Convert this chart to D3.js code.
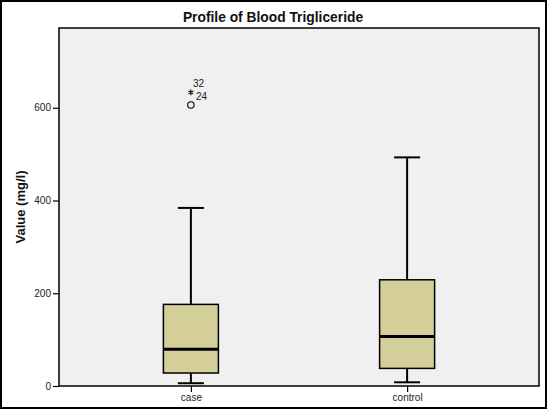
<!DOCTYPE html>
<html>
<head>
<meta charset="utf-8">
<script src="https://cdn.jsdelivr.net/npm/d3@7"></script>
<style>
    body { margin: 0; background: #fff; }
    text { font-family: "Liberation Sans", Arial, sans-serif; }
</style>
</head>
<body>
<div class="chart"></div>
<script>
(function () {
    'use strict';

    /* data */
    const groups = ['case', 'control'];
    const lowerWhisker = [6, 8];
    const quartile1 = [28, 38];
    const medians = [79, 107];
    const quartile3 = [176, 229];
    const upperWhisker = [384, 493];
    const outlierGroup = ['case', 'case'];
    const outlierValues = [606, 633];
    const outlierKind = ['circle', 'star'];
    const outlierLabels = ['24', '32'];
    const yTicks = [0, 200, 400, 600];

    const W = 548, H = 409;
    const margin = { top: 28, left: 59, right: 9, bottom: 23 };
    const width = W - margin.left - margin.right;
    const height = H - margin.top - margin.bottom;

    const svg = d3.select('.chart').append('svg')
        .attr('width', W)
        .attr('height', H);

    /* outer frame */
    svg.append('rect')
        .attr('x', 1).attr('y', 1)
        .attr('width', W - 3).attr('height', H - 2)
        .attr('fill', '#fff')
        .attr('stroke', '#000')
        .attr('stroke-width', 2);

    const x = d3.scalePoint().domain(groups).range([0, width]).padding(0.61);
    const y = d3.scaleLinear().domain([0, 772]).range([height, 0]);

    const plot = svg.append('g')
        .attr('transform', 'translate(' + margin.left + ', ' + margin.top + ')');

    plot.append('rect')
        .attr('width', width).attr('height', height)
        .attr('fill', '#f0f0f0');

    /* axes */
    const yAxis = plot.append('g')
        .call(d3.axisLeft(y).tickValues(yTicks).tickSize(6).tickPadding(2));
    const xAxis = plot.append('g')
        .attr('transform', 'translate(0, ' + height + ')')
        .call(d3.axisBottom(x).tickSize(6).tickPadding(2));
    [xAxis, yAxis].forEach(function (a) {
        a.select('.domain').remove();
        a.selectAll('line').attr('stroke', '#000').attr('stroke-width', 1.2);
        a.selectAll('text').attr('fill', '#222').style('font-size', '10px');
    });

    const boxW = 55, capW = 26;

    const boxes = plot.selectAll('.box').data(groups).enter().append('g')
        .attr('class', 'box')
        .attr('transform', function (d) { return 'translate(' + x(d) + ', 0)'; });

    boxes.append('line')
        .attr('x1', 0).attr('x2', 0)
        .attr('y1', function (d, i) { return y(upperWhisker[i]); })
        .attr('y2', function (d, i) { return y(lowerWhisker[i]); })
        .attr('stroke', '#000').attr('stroke-width', 2);
    [upperWhisker, lowerWhisker].forEach(function (arr) {
        boxes.append('line')
            .attr('x1', -capW / 2).attr('x2', capW / 2)
            .attr('y1', function (d, i) { return y(arr[i]); })
            .attr('y2', function (d, i) { return y(arr[i]); })
            .attr('stroke', '#000').attr('stroke-width', 2);
    });
    boxes.append('rect')
        .attr('x', -boxW / 2).attr('width', boxW)
        .attr('y', function (d, i) { return y(quartile3[i]); })
        .attr('height', function (d, i) { return y(quartile1[i]) - y(quartile3[i]); })
        .attr('fill', '#d4cf99')
        .attr('stroke', '#000').attr('stroke-width', 1.5);
    boxes.append('line')
        .attr('x1', -boxW / 2).attr('x2', boxW / 2)
        .attr('y1', function (d, i) { return y(medians[i]); })
        .attr('y2', function (d, i) { return y(medians[i]); })
        .attr('stroke', '#000').attr('stroke-width', 3);

    /* outliers */
    const outliers = plot.selectAll('.outlier').data(outlierValues).enter().append('g')
        .attr('class', 'outlier')
        .attr('transform', function (d, i) { return 'translate(' + x(outlierGroup[i]) + ', ' + y(d) + ')'; });
    outliers.filter(function (d, i) { return outlierKind[i] === 'circle'; })
        .append('circle').attr('r', 3.2)
        .attr('fill', 'none').attr('stroke', '#000').attr('stroke-width', 1.1);
    outliers.filter(function (d, i) { return outlierKind[i] === 'star'; })
        .append('path')
        .attr('d', d3.symbol().type(d3.symbolAsterisk).size(22))
        .attr('stroke', '#000').attr('stroke-width', 1.1);
    outliers.append('text')
        .text(function (d, i) { return outlierLabels[i]; })
        .attr('x', function (d, i) { return outlierKind[i] === 'star' ? 2 : 5; })
        .attr('y', -8.5)
        .attr('dy', '0.35em')
        .attr('fill', '#222')
        .style('font-size', '10px');

    /* plot frame */
    plot.append('rect')
        .attr('width', width).attr('height', height)
        .attr('fill', 'none')
        .attr('stroke', '#000').attr('stroke-width', 1.5);

    /* titles */
    svg.append('text').text('Profile of Blood Trigliceride')
        .attr('x', 273).attr('y', 22)
        .attr('text-anchor', 'middle')
        .style('font-size', '13.8px').style('font-weight', 700)
        .attr('fill', '#111');
    svg.append('text').text('Value (mg/l)')
        .attr('transform', 'translate(25, ' + (margin.top + height / 2) + ') rotate(-90)')
        .attr('text-anchor', 'middle')
        .style('font-size', '13px').style('font-weight', 700)
        .attr('fill', '#111');
}());
</script>
</body>
</html>
